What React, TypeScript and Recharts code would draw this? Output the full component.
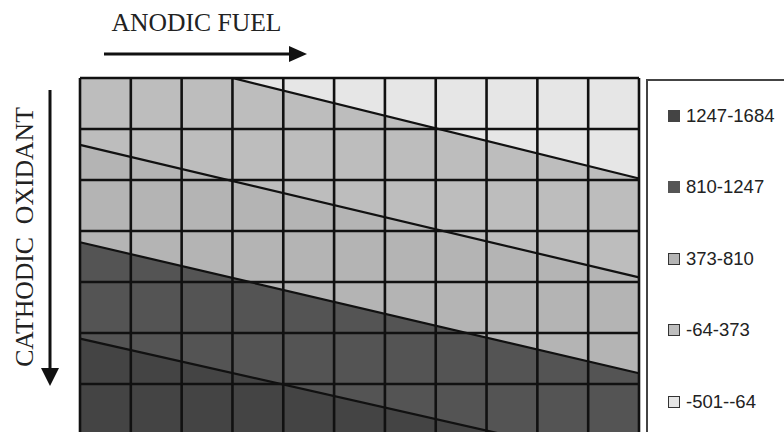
import React from 'react';
import { ComposedChart, Area, XAxis, YAxis, ReferenceLine, CartesianGrid } from 'recharts';

// Anodic fuel grid positions (x) at the two plot edges
const fuelEdges = [0, 11];
// Contour boundaries (height above the bottom, in grid rows) at the two edges
const boundary1 = [7.74, 5.03]; // -501--64 | -64-373
const boundary2 = [5.69, 3.09]; // -64-373 | 373-810
const boundary3 = [3.78, 1.21]; // 373-810 | 810-1247
const boundary4 = [1.89, -0.59]; // 810-1247 | 1247-1684

const gridCols = [0, 1, 2, 3, 4, 5, 6, 7, 8, 9, 10, 11];
const gridRows = [0, 1, 2, 3, 4, 5, 6, 7];

const legendLabels = ['1247-1684', '810-1247', '373-810', '-64-373', '-501--64'];
const legendColors = ['#444444', '#555555', '#b4b4b4', '#bdbdbd', '#e6e6e6'];

const titleX = 'ANODIC FUEL';
const titleY = 'CATHODIC  OXIDANT';

const data = fuelEdges.map((x, i) => ({
  x,
  b1: boundary1[i],
  b2: boundary2[i],
  b3: boundary3[i],
  b4: boundary4[i],
}));

const LegendBox = () => (
  <div
    style={{
      position: 'absolute',
      left: 646,
      top: 79,
      width: 160,
      height: 380,
      border: '2px solid #444',
      background: '#fff',
      boxSizing: 'border-box',
    }}
  >
    {legendLabels.map((label, i) => {
      const dark = i < 2;
      return (
        <div
          key={label}
          style={{
            position: 'absolute',
            left: 20,
            top: 115.5 + i * 71.5 - 81 - 12,
            height: 24,
            display: 'flex',
            alignItems: 'center',
            fontFamily: '"Liberation Sans", Arial, sans-serif',
            fontSize: 18.5,
            color: '#222',
            whiteSpace: 'nowrap',
          }}
        >
          <span
            style={{
              display: 'inline-block',
              width: 12,
              height: 12,
              boxSizing: 'border-box',
              background: legendColors[i],
              border: dark ? `1px solid ${legendColors[i]}` : '1.5px solid #333',
              marginRight: 6,
            }}
          />
          <span>{label}</span>
        </div>
      );
    })}
  </div>
);

export default function App() {
  return (
    <div
      style={{
        position: 'fixed',
        left: 0,
        top: 0,
        width: 784,
        height: 432,
        overflow: 'hidden',
        background: '#fff',
      }}
    >
      <ComposedChart
        width={784}
        height={440}
        data={data}
        margin={{ top: 78, left: 80, right: 145, bottom: 5 }}
      >
        <CartesianGrid horizontal={false} vertical={false} fill="#e6e6e6" />
        <XAxis dataKey="x" type="number" domain={[0, 11]} hide />
        <YAxis type="number" domain={[0, 7]} allowDataOverflow hide />
        <Area
          type="linear"
          dataKey="b1"
          baseValue={0}
          fill="#bdbdbd"
          fillOpacity={1}
          stroke="#111"
          strokeWidth={2.2}
          isAnimationActive={false}
          dot={false}
          activeDot={false}
        />
        <Area
          type="linear"
          dataKey="b2"
          baseValue={0}
          fill="#b4b4b4"
          fillOpacity={1}
          stroke="#111"
          strokeWidth={2.2}
          isAnimationActive={false}
          dot={false}
          activeDot={false}
        />
        <Area
          type="linear"
          dataKey="b3"
          baseValue={0}
          fill="#545454"
          fillOpacity={1}
          stroke="#111"
          strokeWidth={2.2}
          isAnimationActive={false}
          dot={false}
          activeDot={false}
        />
        <Area
          type="linear"
          dataKey="b4"
          baseValue={0}
          fill="#444444"
          fillOpacity={1}
          stroke="#111"
          strokeWidth={2.2}
          isAnimationActive={false}
          dot={false}
          activeDot={false}
        />
        {gridCols.map((c) => (
          <ReferenceLine key={'c' + c} x={c} stroke="#111" strokeWidth={2.6} zIndex={600} />
        ))}
        {gridRows.map((r) => (
          <ReferenceLine key={'r' + r} y={r} stroke="#111" strokeWidth={2.6} zIndex={600} />
        ))}
      </ComposedChart>
      <LegendBox />
      <svg
        width={784}
        height={432}
        style={{ position: 'absolute', left: 0, top: 0, pointerEvents: 'none' }}
      >
        <text
          x={111.5}
          y={30.5}
          fontFamily='"Liberation Serif", "Times New Roman", serif'
          fontSize={25.6}
          fill="#222"
        >
          {titleX}
        </text>
        <line x1={104} y1={54} x2={292} y2={54} stroke="#111" strokeWidth={3} />
        <polygon points="289,46 307,54 289,62" fill="#111" />
        <text
          transform="translate(33,237) rotate(-90)"
          textAnchor="middle"
          fontFamily='"Liberation Serif", "Times New Roman", serif'
          fontSize={25.7}
          fill="#222"
          style={{ whiteSpace: 'pre' }}
        >
          {titleY}
        </text>
        <line x1={50} y1={90} x2={50} y2={370} stroke="#111" strokeWidth={3} />
        <polygon points="41,368 59,368 50,386" fill="#111" />
      </svg>
    </div>
  );
}
